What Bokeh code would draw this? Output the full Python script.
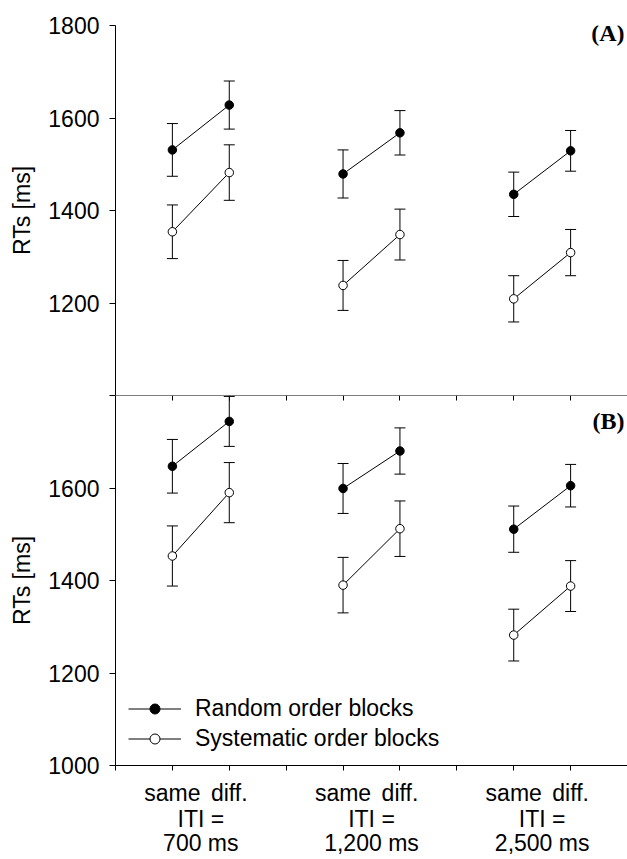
from bokeh.plotting import figure
from bokeh.models import (FixedTicker, LinearAxis, Range1d, ColumnDataSource,
                          Whisker, TeeHead, Legend, LegendItem, Label)
from bokeh.layouts import column
from bokeh.embed import file_html
from bokeh.resources import INLINE

# ---------------- data ----------------
iti_groups = ["700 ms", "1,200 ms", "2,500 ms"]
conditions = ["same", "diff."]
series_names = ["Random order blocks", "Systematic order blocks"]

# Panel (A): order same, diff. for each ITI group
random_a = [1531, 1628, 1479, 1568, 1435, 1529]
random_a_err = [57, 52, 52, 48, 48, 44]
system_a = [1354, 1482, 1238, 1348, 1209, 1309]
system_a_err = [58, 60, 54, 55, 50, 50]

# Panel (B)
random_b = [1647, 1744, 1599, 1680, 1511, 1605]
random_b_err = [58, 54, 54, 50, 50, 46]
system_b = [1453, 1590, 1390, 1512, 1282, 1388]
system_b_err = [65, 65, 60, 60, 56, 55]

y_ticks = [1000, 1200, 1400, 1600, 1800]

# ---------------- layout helpers ----------------
FONT = "Liberation Sans"
FS = "23px"
n_cond = len(conditions)
step = n_cond + 1
x_pos = [g * step + c + 1 for g in range(len(iti_groups)) for c in range(n_cond)]
x_max = len(iti_groups) * step
x_ticks = list(range(0, x_max))
group_centers = [g * step + (n_cond + 1) / 2 for g in range(len(iti_groups))]


def add_series(p, vals, errs, fill):
    src = ColumnDataSource(dict(x=x_pos, y=vals,
                                upper=[v + e for v, e in zip(vals, errs)],
                                lower=[v - e for v, e in zip(vals, errs)]))
    w = Whisker(source=src, base="x", upper="upper", lower="lower",
                dimension="height", line_color="black", line_width=1,
                upper_head=TeeHead(size=11, line_color="black", line_width=1),
                lower_head=TeeHead(size=11, line_color="black", line_width=1))
    p.add_layout(w)
    xs = [x_pos[g * n_cond:(g + 1) * n_cond] for g in range(len(iti_groups))]
    ys = [vals[g * n_cond:(g + 1) * n_cond] for g in range(len(iti_groups))]
    ml = p.multi_line(xs=xs, ys=ys, line_color="black", line_width=1)
    sc = p.scatter(x="x", y="y", source=src, marker="circle", size=8.5,
                   fill_color=fill, line_color="black", line_width=1)
    return ml, sc


def make_panel(top, rand, rand_err, syst, syst_err, tag):
    p = figure(frame_width=512, frame_height=370,
               x_range=Range1d(0, x_max), y_range=Range1d(y_ticks[0], y_ticks[-1]),
               output_backend="svg", toolbar_location=None,
               x_axis_location=None if top else "below",
               min_border_left=115, min_border_right=0,
               min_border_top=25 if top else 0, min_border_bottom=0)
    p.outline_line_color = None
    p.grid.visible = False
    p.background_fill_color = "white"

    yax = p.yaxis[0]
    yax.ticker = FixedTicker(ticks=y_ticks)
    yax.major_label_overrides = {y_ticks[0]: ""} if top else {y_ticks[-1]: ""}
    yax.axis_label = "RTs [ms]"
    yax.axis_label_text_font = FONT
    yax.axis_label_text_font_size = FS
    yax.axis_label_text_font_style = "normal"
    yax.axis_label_text_color = "black"
    yax.axis_label_standoff = 10
    yax.major_label_text_font = FONT
    yax.major_label_text_font_size = FS
    yax.major_label_text_color = "black"
    yax.major_label_standoff = 10
    yax.major_tick_out = 6
    yax.major_tick_in = 0
    yax.minor_tick_out = 0
    yax.minor_tick_in = 0
    yax.axis_line_color = "black"
    yax.major_tick_line_color = "black"

    r1 = add_series(p, rand, rand_err, "black")
    r2 = add_series(p, syst, syst_err, "white")

    lab = Label(x=x_max, y=y_ticks[-1], x_offset=-3, y_offset=6 if top else -12,
                text=tag, text_align="right", text_baseline="top",
                text_font="Liberation Serif", text_font_style="bold",
                text_font_size="24px", text_color="black")
    p.add_layout(lab)

    if not top:
        xax = p.xaxis[0]
        xax.ticker = FixedTicker(ticks=x_ticks)
        overrides = {}
        for t in x_ticks:
            overrides[t] = ""
        for i, xp in enumerate(x_pos):
            overrides[xp] = conditions[i % n_cond]
        xax.major_label_overrides = overrides
        xax.major_label_text_font = FONT
        xax.major_label_text_font_size = FS
        xax.major_label_text_color = "black"
        xax.major_label_standoff = 9
        xax.major_tick_out = 5
        xax.major_tick_in = 0
        xax.minor_tick_out = 0
        xax.minor_tick_in = 0
        xax.axis_line_color = "black"
        xax.major_tick_line_color = "black"

        gax = LinearAxis(ticker=FixedTicker(ticks=group_centers),
                         major_label_overrides={c: "ITI =\n" + g for c, g in zip(group_centers, iti_groups)},
                         axis_line_color=None, major_tick_line_color=None,
                         minor_tick_line_color=None,
                         major_tick_out=0, major_tick_in=0,
                         minor_tick_out=0, minor_tick_in=0,
                         major_label_standoff=-3,
                         major_label_text_font=FONT,
                         major_label_text_font_size=FS,
                         major_label_text_color="black",
                         major_label_text_line_height=0.96)
        p.add_layout(gax, "below")

        tax = LinearAxis(ticker=FixedTicker(ticks=x_ticks), fixed_location=y_ticks[-1],
                         major_tick_in=5, major_tick_out=0,
                         minor_tick_in=0, minor_tick_out=0,
                         major_label_text_font_size="0px",
                         axis_line_color="black", major_tick_line_color="black")
        p.add_layout(tax, "above")

        legend = Legend(items=[LegendItem(label=series_names[0], renderers=list(r1)),
                               LegendItem(label=series_names[1], renderers=list(r2))],
                        location=(13, 13), glyph_width=53, glyph_height=25,
                        label_height=25, label_standoff=14, spacing=3,
                        padding=0, margin=0, border_line_color=None,
                        background_fill_alpha=0,
                        label_text_font=FONT, label_text_font_size=FS,
                        label_text_color="black")
        p.add_layout(legend)
    return p


p_a = make_panel(True, random_a, random_a_err, system_a, system_a_err, "(A)")
p_b = make_panel(False, random_b, random_b_err, system_b, system_b_err, "(B)")

layout = column(p_a, p_b, spacing=0)
open("out.html", "w").write(file_html(layout, INLINE))
